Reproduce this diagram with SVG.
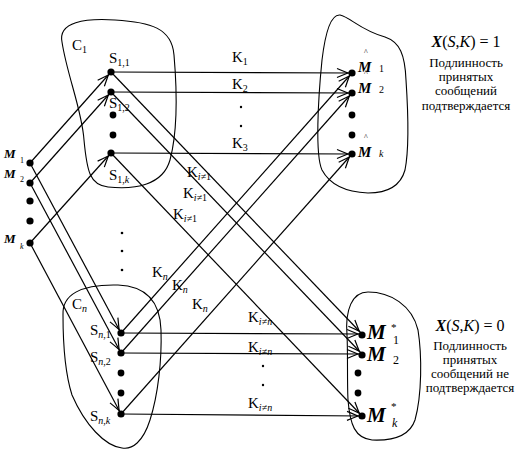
<svg xmlns="http://www.w3.org/2000/svg" width="522" height="453" viewBox="0 0 522 453">
<style>
text{font-family:"Liberation Serif","Times New Roman","DejaVu Serif",serif;fill:#000}
.blob{fill:none;stroke:#000;stroke-width:1.1}
.ln{stroke:#000;stroke-width:1.2;fill:none}
.arr{marker-end:url(#ah)}
.dot{fill:#000}
.s{font-size:15px}
.sub{font-size:10px}
.k{font-size:15px}
.m{font-weight:bold;font-style:italic}
.i{font-style:italic}
.rt{font-size:13px;text-anchor:middle}
.eq{font-size:16px;text-anchor:middle}
.hat{font-size:8px}
</style>
<defs>
<marker id="ah" markerUnits="userSpaceOnUse" markerWidth="18" markerHeight="12" viewBox="-17 -6 18 12" refX="0" refY="0" orient="auto">
<path d="M-15,-4.5 Q-9,-2 -4,0 Q-9,2 -15,4.5" fill="none" stroke="#000" stroke-width="1.2"/>
</marker>
</defs>

<g id="blobs">
<path id="C1-blob" class="blob" d="M62,42 C58,22 85,18 115,20 C150,22 172,28 174,55 C177,90 178,130 170,160 C163,185 135,190 108,187 C90,185 87,172 84,140 C82,110 67,75 62,42 Z"/>
<path id="Cn-blob" class="blob" d="M63,315 C62,295 80,284 118,285 C145,286 160,300 161,330 C162,360 158,395 150,420 C143,442 132,450 122,448 C105,446 85,425 72,395 C64,370 63,340 63,315 Z"/>
<path id="Mhat-blob" class="blob" d="M322,60 C325,35 330,14 340,15 C350,17 360,30 385,37 C400,42 405,55 406,80 C408,110 409,150 405,170 C400,188 385,193 368,193 C345,192 330,185 322,170 C315,155 318,100 322,60 Z"/>
<path id="Mstar-blob" class="blob" d="M347,335 C345,310 352,292 368,292 C390,292 412,305 418,330 C422,355 422,395 415,420 C410,435 395,441 372,440 C355,438 350,425 348,400 C347,380 348,355 347,335 Z"/>
</g>

<g id="connectors">
<line class="ln arr" x1="30" y1="163" x2="111" y2="72"/>
<line class="ln arr" x1="30" y1="183" x2="111" y2="92"/>
<line class="ln arr" x1="30" y1="243" x2="111" y2="153"/>
<line class="ln arr" x1="30" y1="163" x2="121" y2="333"/>
<line class="ln arr" x1="30" y1="183" x2="121" y2="353"/>
<line class="ln arr" x1="30" y1="243" x2="121" y2="414"/>
<line class="ln arr" x1="111" y1="72" x2="352" y2="73"/>
<line class="ln arr" x1="111" y1="92" x2="352" y2="93"/>
<line class="ln arr" x1="111" y1="153" x2="352" y2="154"/>
<line class="ln arr" x1="121" y1="333" x2="362" y2="334"/>
<line class="ln arr" x1="121" y1="353" x2="362" y2="354"/>
<line class="ln arr" x1="121" y1="414" x2="362" y2="416"/>
<line class="ln arr" x1="111" y1="72" x2="362" y2="334"/>
<line class="ln arr" x1="111" y1="92" x2="362" y2="354"/>
<line class="ln arr" x1="111" y1="153" x2="362" y2="416"/>
<line class="ln arr" x1="121" y1="333" x2="352" y2="73"/>
<line class="ln arr" x1="121" y1="353" x2="352" y2="93"/>
<line class="ln arr" x1="121" y1="414" x2="352" y2="154"/>
</g>

<g id="M-sources">
<circle class="dot" cx="30" cy="163" r="3.6"/>
<circle class="dot" cx="30" cy="183" r="3.6"/>
<circle class="dot" cx="30" cy="201" r="3.6"/>
<circle class="dot" cx="30" cy="221" r="3.6"/>
<circle class="dot" cx="30" cy="243" r="3.6"/>
<text x="4" y="158" font-size="13" class="m">M</text><text x="20" y="163" font-size="8">1</text>
<text x="4" y="178" font-size="13" class="m">M</text><text x="20" y="182" font-size="8">2</text>
<text x="4" y="243" font-size="13" class="m">M</text><text x="20" y="249" font-size="8" class="i">k</text>
</g>

<g id="C1">
<text x="72" y="50" class="s">C<tspan class="sub" dy="3">1</tspan></text>
<circle class="dot" cx="111" cy="72" r="3.6"/>
<circle class="dot" cx="111" cy="92" r="3.6"/>
<circle class="dot" cx="113" cy="115" r="3.4"/>
<circle class="dot" cx="113" cy="135" r="3.4"/>
<circle class="dot" cx="111" cy="153" r="3.6"/>
<text x="109" y="63" class="s">S<tspan class="sub" dy="3">1,1</tspan></text>
<text x="109" y="108" class="s">S<tspan class="sub" dy="3">1,2</tspan></text>
<text x="109" y="180" class="s">S<tspan class="sub" dy="3">1,<tspan class="i">k</tspan></tspan></text>
</g>

<g id="mid-dots">
<circle class="dot" cx="122" cy="233" r="1.3"/>
<circle class="dot" cx="122" cy="251" r="1.3"/>
<circle class="dot" cx="122" cy="270" r="1.3"/>
</g>

<g id="Cn">
<text x="72" y="309" class="s">C<tspan class="sub i" dy="3">n</tspan></text>
<circle class="dot" cx="121" cy="333" r="3.6"/>
<circle class="dot" cx="121" cy="353" r="3.6"/>
<circle class="dot" cx="121" cy="373" r="3.4"/>
<circle class="dot" cx="121" cy="393" r="3.4"/>
<circle class="dot" cx="121" cy="414" r="3.6"/>
<text x="90" y="335" class="s">S<tspan class="sub" dy="3"><tspan class="i">n</tspan>,1</tspan></text>
<text x="90" y="362" class="s">S<tspan class="sub" dy="3"><tspan class="i">n</tspan>,2</tspan></text>
<text x="90" y="421" class="s">S<tspan class="sub" dy="3"><tspan class="i">n</tspan>,<tspan class="i">k</tspan></tspan></text>
</g>

<g id="Mhat">
<circle class="dot" cx="352" cy="73" r="3.6"/>
<circle class="dot" cx="352" cy="93" r="3.6"/>
<circle class="dot" cx="352" cy="115" r="3.4"/>
<circle class="dot" cx="352" cy="135" r="3.4"/>
<circle class="dot" cx="352" cy="154" r="3.6"/>
<text x="358" y="72" font-size="15" class="m">M</text><text x="364" y="55" class="hat">^</text><text x="379" y="72" font-size="10">1</text>
<text x="358" y="93" font-size="15" class="m">M</text><text x="364" y="76" class="hat">^</text><text x="379" y="93" font-size="10">2</text>
<text x="358" y="157" font-size="15" class="m">M</text><text x="364" y="140" class="hat">^</text><text x="379" y="157" font-size="10" class="i">k</text>
</g>

<g id="Mstar">
<circle class="dot" cx="362" cy="335" r="3.6"/>
<circle class="dot" cx="362" cy="355" r="3.6"/>
<circle class="dot" cx="358" cy="373" r="3.4"/>
<circle class="dot" cx="358" cy="393" r="3.4"/>
<circle class="dot" cx="362" cy="416" r="3.6"/>
<text x="367" y="339" font-size="21" class="m">M</text><text x="391" y="331" font-size="11">*</text><text x="393" y="344" font-size="12">1</text>
<text x="367" y="361" font-size="21" class="m">M</text><text x="393" y="364" font-size="12">2</text>
<text x="367" y="422" font-size="21" class="m">M</text><text x="391" y="410" font-size="11">*</text><text x="392" y="427" font-size="12" class="i">k</text>
</g>

<g id="K-labels">
<text x="232" y="62" class="k">K<tspan class="sub" dy="3">1</tspan></text>
<text x="232" y="89" class="k">K<tspan class="sub" dy="3">2</tspan></text>
<circle class="dot" cx="241" cy="107" r="1.2"/>
<circle class="dot" cx="241" cy="126" r="1.2"/>
<text x="232" y="148" class="k">K<tspan class="sub" dy="3">3</tspan></text>
<text x="187" y="177" class="k">K<tspan class="sub" dy="3"><tspan class="i">i</tspan>≠1</tspan></text>
<text x="183" y="198" class="k">K<tspan class="sub" dy="3"><tspan class="i">i</tspan>≠1</tspan></text>
<text x="173" y="219" class="k">K<tspan class="sub" dy="3"><tspan class="i">i</tspan>≠1</tspan></text>
<text x="152" y="277" class="k">K<tspan class="sub i" dy="3">n</tspan></text>
<text x="172" y="290" class="k">K<tspan class="sub i" dy="3">n</tspan></text>
<text x="192" y="309" class="k">K<tspan class="sub i" dy="3">n</tspan></text>
<text x="248" y="322" class="k">K<tspan class="sub" dy="3"><tspan class="i">i</tspan>≠<tspan class="i">n</tspan></tspan></text>
<text x="248" y="352" class="k">K<tspan class="sub" dy="3"><tspan class="i">i</tspan>≠<tspan class="i">n</tspan></tspan></text>
<circle class="dot" cx="263" cy="366" r="1.2"/>
<circle class="dot" cx="263" cy="385" r="1.2"/>
<text x="248" y="408" class="k">K<tspan class="sub" dy="3"><tspan class="i">i</tspan>≠<tspan class="i">n</tspan></tspan></text>
</g>

<g id="result-true">
<text x="466" y="47" class="eq"><tspan class="m">X</tspan>(<tspan class="i">S</tspan>,<tspan class="i">K</tspan>) = 1</text>
<text x="466" y="67" class="rt">Подлинность</text>
<text x="466" y="81" class="rt">принятых</text>
<text x="466" y="95" class="rt">сообщений</text>
<text x="466" y="110" class="rt">подтверждается</text>
</g>

<g id="result-false">
<text x="470" y="331" class="eq"><tspan class="m">X</tspan>(<tspan class="i">S</tspan>,<tspan class="i">K</tspan>) = 0</text>
<text x="470" y="350" class="rt">Подлинность</text>
<text x="470" y="364" class="rt">принятых</text>
<text x="470" y="378" class="rt">сообщений не</text>
<text x="470" y="392" class="rt">подтверждается</text>
</g>
</svg>
